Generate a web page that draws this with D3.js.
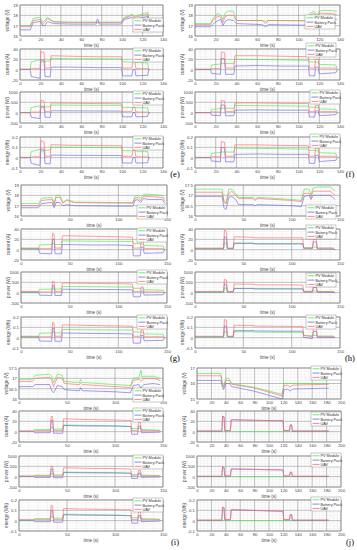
<!DOCTYPE html>
<html>
<head>
<meta charset="utf-8">
<script src="https://cdn.jsdelivr.net/npm/d3@7"></script>
<style>
body { margin: 0; background: #fff; }
</style>
</head>
<body>
<div id="chart"></div>
<script>
var seriesNames = ["PV Module", "Battery Pack", "UAV"];
var panelLabels = ["voltage (V)", "current (A)", "power (W)", "energy (Wh)"];

// ---------- (e) ----------
var eTime = [0, 10, 11, 19.5, 20.5, 23.5, 24.5, 29.5, 30.5, 50, 75, 99.5, 100.5, 109.5, 110.5, 112.5, 113.5, 125, 126, 127];
var eVoltTime = [0, 10, 13, 20, 22, 24, 27, 30, 33, 50, 74.5, 75.5, 76.5, 77.5, 99, 102, 110, 112, 125, 126.5];
var eVoltage = [
  [17.0, 17.0, 17.7, 17.8, 17.3, 17.5, 17.8, 17.6, 17.4, 17.35, 17.35, 17.35, 17.35, 17.35, 17.35, 17.8, 18.1, 17.9, 18.3, 17.6],
  [16.6, 16.6, 17.3, 17.4, 17.0, 17.0, 17.4, 17.3, 17.2, 17.15, 17.15, 17.6, 17.6, 17.15, 17.15, 17.6, 17.8, 17.6, 17.9, 17.4],
  [16.9, 16.9, 17.5, 17.6, 17.1, 17.3, 17.7, 17.5, 17.35, 17.3, 17.3, 17.3, 17.3, 17.3, 17.3, 17.7, 18.0, 17.8, 18.1, 17.5]
];
var eCurrent = [
  [0.5, 0.5, 15, 19, 15, 15, 16, 17, 22, 21, 21, 20.5, 15, 14.5, 15, 15, 14, 13, 1, 0],
  [0.5, 0.5, -13, -17, 19, 18, -13, -14, 5, 5, 4, 4, -12, -12, 0, 1, -12, -11, 0, 0],
  [1, 1, 2, 2, 35, 33, 3, 3, 27, 26, 25, 25, 3, 3, 15, 16, 2, 2, 1, 0]
];
var ePower = [
  [0, 0, 250, 330, 260, 260, 280, 290, 370, 360, 355, 350, 260, 250, 255, 255, 240, 230, 10, 0],
  [0, 0, -220, -290, 320, 300, -220, -230, 90, 85, 80, 75, -200, -200, 0, 10, -200, -190, 0, 0],
  [10, 10, 30, 30, 600, 560, 50, 50, 470, 455, 440, 430, 50, 50, 260, 270, 30, 30, 10, 0]
];
var eEnergy = [
  [0, 0, 0.06, 0.08, 0.065, 0.065, 0.07, 0.075, 0.1, 0.1, 0.098, 0.096, 0.068, 0.066, 0.067, 0.067, 0.062, 0.06, 0.002, 0],
  [0, 0, -0.055, -0.075, 0.085, 0.08, -0.057, -0.06, 0.025, 0.023, 0.022, 0.02, -0.052, -0.052, 0, 0.003, -0.052, -0.05, 0, 0],
  [0.003, 0.003, 0.008, 0.008, 0.165, 0.155, 0.013, 0.013, 0.125, 0.12, 0.117, 0.115, 0.013, 0.013, 0.07, 0.075, 0.008, 0.008, 0.003, 0]
];

// ---------- (f) ----------
var fTime = [0, 15, 16, 24.5, 25.5, 28.5, 29.5, 37.5, 38.5, 60, 85, 109.5, 110.5, 115.5, 116.5, 119, 120, 121, 136, 137.5];
var fVoltTime = [0, 15, 18, 22, 25, 27, 29, 32, 37, 40, 65, 68, 71, 109, 111, 115, 118, 120, 125, 137];
var fVoltage = [
  [17.2, 17.2, 17.8, 18.2, 18.0, 17.6, 18.2, 18.4, 18.4, 17.5, 17.5, 17.4, 17.5, 17.5, 18.2, 18.4, 18.0, 18.4, 18.5, 18.4],
  [16.9, 16.9, 17.2, 17.5, 17.6, 17.0, 17.4, 17.6, 17.5, 17.2, 17.1, 16.9, 17.1, 17.05, 17.7, 17.8, 17.5, 17.9, 17.8, 17.6],
  [17.1, 17.1, 17.6, 17.9, 17.8, 17.3, 17.9, 18.0, 18.0, 17.5, 17.5, 17.2, 17.5, 17.45, 18.0, 18.2, 17.8, 18.2, 18.2, 18.1]
];
var fCurrent = [
  [0, 0, 9, 11, 12, 12, 12, 12, 20, 19.5, 19, 18, 15, 15, 15, 13, 11, 10, 9, 0],
  [0.5, 0.5, -7, -9, 22, 21, -9, -9, 7, 8, 7, 7, -12, -12, 5, 5, -8, -8, -6, 0],
  [1, 1, 2, 2, 34, 33, 3, 3, 27, 27, 26, 25, 3, 3, 20, 20, 3, 3, 3, 0]
];
var fPower = [
  [0, 0, 160, 190, 210, 210, 210, 210, 350, 340, 330, 315, 270, 270, 270, 230, 195, 180, 160, 0],
  [0, 0, -120, -150, 380, 360, -150, -150, 120, 135, 120, 120, -210, -210, 90, 90, -140, -140, -100, 0],
  [10, 10, 35, 35, 590, 570, 50, 50, 470, 470, 450, 440, 50, 50, 350, 350, 50, 50, 50, 0]
];
var fEnergy = [
  [0, 0, 0.042, 0.05, 0.055, 0.055, 0.055, 0.055, 0.092, 0.09, 0.087, 0.083, 0.07, 0.07, 0.07, 0.06, 0.051, 0.047, 0.042, 0],
  [0, 0, -0.032, -0.04, 0.1, 0.095, -0.04, -0.04, 0.032, 0.036, 0.032, 0.032, -0.055, -0.055, 0.024, 0.024, -0.037, -0.037, -0.026, 0],
  [0.003, 0.003, 0.009, 0.009, 0.155, 0.15, 0.013, 0.013, 0.124, 0.124, 0.118, 0.116, 0.013, 0.013, 0.092, 0.092, 0.013, 0.013, 0.013, 0]
];

// ---------- (g) ----------
var gTime = [0, 18, 19, 31.5, 32.5, 34, 35, 41.5, 42.5, 70, 100, 114.5, 115.5, 122.5, 123.5, 125.5, 126.5, 146, 147.5, 148];
var gVoltTime = [0, 18, 21, 30, 32, 34, 36, 40, 43, 47, 55, 100, 115, 117, 120, 123, 126, 130, 145, 148];
var gVoltage = [
  [17.2, 17.2, 17.7, 17.8, 17.8, 17.2, 18.0, 18.0, 17.3, 17.6, 17.35, 17.3, 17.3, 17.9, 18.0, 17.7, 18.1, 18.1, 18.0, 17.6],
  [16.8, 16.8, 17.2, 17.3, 17.3, 16.8, 17.3, 17.3, 17.0, 17.1, 17.0, 16.95, 16.95, 17.5, 17.6, 17.3, 17.7, 17.6, 17.6, 17.2],
  [17.0, 17.0, 17.5, 17.6, 17.6, 17.0, 17.8, 17.8, 17.25, 17.5, 17.3, 17.25, 17.25, 17.7, 17.8, 17.5, 17.9, 17.9, 17.8, 17.4]
];
var gCurrent = [
  [0, 0, 9, 10, 12, 12, 10, 10, 17, 16.5, 16, 16, 12, 12, 12, 10, 8, 7, 0, 0],
  [2, 2, -7, -8, 20, 20, -8, -8, 10, 9, 9, 8, -12, -12, 5, 5, -7, -6, 0, 0],
  [3, 3, 2, 2, 32, 30, 3, 3, 27, 26, 25, 24, 3, 3, 16, 16, 2, 2, 0, 0]
];
var gPower = [
  [0, 0, 160, 175, 210, 210, 175, 175, 300, 290, 280, 280, 210, 210, 210, 175, 140, 125, 0, 0],
  [30, 30, -120, -135, 340, 340, -135, -135, 170, 155, 150, 135, -200, -200, 85, 85, -115, -100, 0, 0],
  [50, 50, 35, 35, 560, 530, 50, 50, 470, 450, 435, 420, 50, 50, 280, 280, 35, 35, 0, 0]
];
var gEnergy = [
  [0, 0, 0.042, 0.046, 0.055, 0.055, 0.046, 0.046, 0.079, 0.076, 0.074, 0.074, 0.055, 0.055, 0.055, 0.046, 0.037, 0.033, 0, 0],
  [0.008, 0.008, -0.032, -0.035, 0.09, 0.09, -0.035, -0.035, 0.045, 0.041, 0.039, 0.036, -0.053, -0.053, 0.022, 0.022, -0.03, -0.026, 0, 0],
  [0.013, 0.013, 0.009, 0.009, 0.147, 0.14, 0.013, 0.013, 0.124, 0.118, 0.114, 0.11, 0.013, 0.013, 0.074, 0.074, 0.009, 0.009, 0, 0]
];

// ---------- (h) ----------
var hTime = [0, 29.5, 30.5, 32.5, 33.5, 39.5, 40.5, 60, 62, 65, 90, 111.5, 112.5, 121.5, 122.5, 125.5, 126.5, 143, 145];
var hVoltTime = [0, 28, 30, 32, 35, 38, 42, 45, 60, 62, 65, 100, 110, 113, 118, 120, 122, 127, 140, 145];
var hVoltage = [
  [17.3, 17.3, 16.7, 16.6, 17.3, 17.3, 17.1, 16.9, 16.9, 16.8, 16.9, 16.8, 16.75, 17.3, 17.3, 17.0, 17.35, 17.4, 17.4, 17.2],
  [16.95, 16.95, 16.4, 16.3, 16.9, 16.95, 16.8, 16.55, 16.55, 16.5, 16.55, 16.5, 16.45, 16.95, 17.0, 16.8, 17.0, 17.0, 17.0, 16.8],
  [17.15, 17.15, 16.7, 16.6, 17.1, 17.2, 17.0, 16.85, 16.85, 16.75, 16.85, 16.75, 16.7, 17.1, 17.1, 16.9, 17.2, 17.2, 17.2, 17.0]
];
var hCurrent = [
  [1, 1, 13, 13, 2, 2, 13, 13, 12, 12, 12, 12, 4, 4, 5, 5, 3, 3, 0],
  [2, 2, 25, 24, 2, 2, 12, 12, 11, 11, 11, 11, 2, 2, 15, 15, 1, 1, 0],
  [3, 3, 38, 36, 3, 3, 25, 24, 23, 23, 23, 23, 3, 3, 20, 20, 3, 3, 0]
];
var hPower = [
  [15, 15, 220, 220, 35, 35, 210, 210, 195, 195, 190, 190, 70, 70, 80, 80, 50, 50, 0],
  [30, 30, 420, 400, 30, 30, 200, 200, 180, 180, 180, 180, 30, 30, 250, 250, 15, 15, 0],
  [50, 50, 640, 610, 50, 50, 420, 410, 380, 380, 375, 370, 50, 50, 330, 330, 50, 50, 0]
];
var hEnergy = [
  [0.004, 0.004, 0.06, 0.06, 0.01, 0.01, 0.058, 0.058, 0.054, 0.054, 0.053, 0.053, 0.019, 0.019, 0.022, 0.022, 0.014, 0.014, 0],
  [0.008, 0.008, 0.115, 0.11, 0.008, 0.008, 0.068, 0.068, 0.065, 0.065, 0.063, 0.062, 0.003, -0.01, 0.06, 0.06, 0.0, 0.0, 0],
  [0.013, 0.013, 0.175, 0.168, 0.013, 0.013, 0.12, 0.118, 0.112, 0.112, 0.11, 0.108, 0.022, 0.01, 0.09, 0.09, 0.013, 0.013, 0]
];

// ---------- (i) ----------
var iTime = [0, 15, 16, 32.5, 33.5, 35, 36, 45.5, 46.5, 70, 100, 116.5, 117.5, 123.5, 124.5, 126.5, 127.5, 146, 147.5];
var iVoltTime = [0, 14, 17, 32, 34, 36, 40, 45, 47, 63, 64, 66, 100, 116, 119, 125, 127, 128, 130, 140, 147];
var iVoltage = [
  [16.95, 16.95, 17.15, 17.2, 17.1, 16.8, 17.2, 17.15, 16.85, 16.8, 16.95, 16.8, 16.7, 16.65, 17.0, 17.05, 17.4, 17.05, 17.1, 17.1, 17.0],
  [16.6, 16.6, 16.7, 16.7, 16.4, 16.3, 16.65, 16.6, 16.45, 16.4, 16.55, 16.4, 16.35, 16.3, 16.65, 16.7, 16.5, 16.6, 16.7, 16.75, 16.7],
  [16.85, 16.85, 17.0, 17.05, 16.9, 16.6, 17.05, 17.0, 16.75, 16.7, 16.8, 16.7, 16.6, 16.55, 16.9, 16.95, 16.85, 16.9, 17.0, 17.0, 16.9]
];
var iCurrent = [
  [0, 0, 4, 4, 8, 8, 5, 5, 13, 12, 11, 10, 6, 6, 7, 7, 4, 3, 0],
  [1, 1, -2, -2, 22, 22, -3, -3, 12, 11, 11, 10, -5, -5, 11, 11, -2, -1, 0],
  [1, 1, 2, 2, 30, 29, 2, 2, 25, 23.5, 22.5, 21.5, 2, 2, 18, 18, 2, 2, 0]
];
var iPower = [
  [0, 0, 70, 70, 140, 140, 85, 85, 220, 205, 190, 175, 100, 100, 120, 120, 70, 50, 0],
  [20, 20, -35, -35, 370, 370, -50, -50, 200, 185, 180, 165, -85, -85, 180, 180, -35, -15, 0],
  [30, 30, 35, 35, 520, 500, 35, 35, 430, 405, 390, 370, 35, 35, 300, 300, 35, 35, 0]
];
var iEnergy = [
  [0, 0, 0.02, 0.02, 0.04, 0.04, 0.025, 0.025, 0.063, 0.059, 0.055, 0.05, 0.028, 0.028, 0.034, 0.034, 0.02, 0.015, 0],
  [0.005, 0.005, -0.01, -0.01, 0.1, 0.1, -0.015, -0.015, 0.057, 0.053, 0.051, 0.047, -0.024, -0.024, 0.05, 0.05, -0.01, -0.004, 0],
  [0.009, 0.009, 0.01, 0.01, 0.15, 0.144, 0.01, 0.01, 0.117, 0.112, 0.108, 0.104, 0.01, 0.01, 0.085, 0.085, 0.01, 0.01, 0]
];

// ---------- (j) ----------
var jTime = [0, 34.5, 35.5, 37.5, 38.5, 46.5, 47.5, 80, 119.5, 120.5, 128.5, 129.5, 131.5, 132.5, 183];
var jVoltTime = [0, 33, 35, 37, 40, 45, 48, 80, 118, 121, 126, 129, 131, 135, 183];
var jVoltage = [
  [16.65, 16.65, 16.1, 15.8, 16.35, 16.3, 16.0, 15.75, 15.3, 16.0, 16.0, 16.0, 16.0, 16.0, 16.0],
  [16.2, 16.2, 15.8, 15.6, 16.0, 16.0, 15.8, 15.5, 15.0, 15.6, 15.65, 15.5, 15.6, 15.65, 15.7],
  [16.5, 16.5, 16.0, 15.75, 16.2, 16.2, 15.95, 15.7, 15.2, 15.85, 15.9, 15.75, 15.85, 15.9, 15.95]
];
var jCurrent = [
  [0, 0, 0, 0, 0, 0, 0, 0, 0, 0, 0, 0, 0, 0, 0],
  [1, 1, 30, 29, 2, 2, 23, 22, 21, 2, 2, 13, 13, 1, 1],
  [1.5, 1.5, 30, 29, 2, 2, 23, 22, 21, 2, 2, 13, 13, 1.5, 1.5]
];
var jPower = [
  [0, 0, 0, 0, 0, 0, 0, 0, 0, 0, 0, 0, 0, 0, 0],
  [15, 15, 470, 450, 30, 30, 370, 350, 320, 30, 30, 210, 210, 15, 15],
  [20, 20, 480, 460, 35, 35, 380, 355, 325, 35, 35, 215, 215, 20, 20]
];
var jEnergy = [
  [0, 0, 0, 0, 0, 0, 0, 0, 0, 0, 0, 0, 0, 0, 0],
  [0.004, 0.004, 0.13, 0.125, 0.008, 0.008, 0.105, 0.098, 0.09, 0.008, 0.008, 0.058, 0.058, 0.004, 0.004],
  [0.006, 0.006, 0.132, 0.127, 0.01, 0.01, 0.107, 0.1, 0.092, 0.01, 0.01, 0.06, 0.06, 0.006, 0.006]
];

// axis ticks
var xTicks140 = [0, 20, 40, 60, 80, 100, 120, 140];
var xTicks150 = [0, 50, 100, 150];
var xTicks200 = [0, 20, 40, 60, 80, 100, 120, 140, 160, 180, 200];
var voltTicks19 = [16, 17, 18, 19];
var voltTicks175 = [16, 16.5, 17, 17.5];
var voltTicks17 = [15, 16, 17];
var currentTicks = [-20, 0, 20, 40];
var powerTicks = [-500, 0, 500, 1000];
var energyTicks = [-0.1, 0, 0.1, 0.2];

// ---------- layout ----------
var W = 357, H = 550;
var colors = ["#4ae84a", "#6a6ae0", "#ff6a6a"];

var figures = [
  {label: "(e)", left: 20, width: 143, tops: [5, 49, 92, 137], xTicks: xTicks140, xMinor: 5, time: eTime, voltTime: eVoltTime,
   data: [eVoltage, eCurrent, ePower, eEnergy], voltTicks: voltTicks19, voltMinor: 0.25, labelPos: [175, 177],
   legend: [13, -1, -1, -1], legendRight: [0, 0, 0, 0]},
  {label: "(f)", left: 195, width: 145, tops: [5, 49, 92, 137], xTicks: xTicks140, xMinor: 5, time: fTime, voltTime: fVoltTime,
   data: [fVoltage, fCurrent, fPower, fEnergy], voltTicks: voltTicks19, voltMinor: 0.25, labelPos: [350, 177],
   legend: [10, -6, -2, -3], legendRight: [5, 4, 0, 0]},
  {label: "(g)", left: 21, width: 146, tops: [185, 229, 272, 317], xTicks: xTicks150, xMinor: 10, time: gTime, voltTime: gVoltTime,
   data: [gVoltage, gCurrent, gPower, gEnergy], voltTicks: voltTicks19, voltMinor: 0.25, labelPos: [175, 361],
   legend: [20, -1, -2, -2], legendRight: [0, 0, 0, 0]},
  {label: "(h)", left: 195, width: 145, tops: [185, 229, 272, 317], xTicks: xTicks150, xMinor: 10, time: hTime, voltTime: hVoltTime,
   data: [hVoltage, hCurrent, hPower, hEnergy], voltTicks: voltTicks175, voltMinor: 0.1, labelPos: [350, 361],
   legend: [20, -4, 1, -2], legendRight: [4, 4, 4, 4]},
  {label: "(i)", left: 19, width: 144, tops: [368, 411, 456, 500], xTicks: xTicks150, xMinor: 10, time: iTime, voltTime: iVoltTime,
   data: [iVoltage, iCurrent, iPower, iEnergy], voltTicks: voltTicks175, voltMinor: 0.1, labelPos: [175, 545],
   legend: [20, -3, -1, -2], legendRight: [0, 0, 0, 0]},
  {label: "(j)", left: 197, width: 144, tops: [368, 411, 456, 500], xTicks: xTicks200, xMinor: 5, time: jTime, voltTime: jVoltTime,
   data: [jVoltage, jCurrent, jPower, jEnergy], voltTicks: voltTicks17, voltMinor: 0.2, labelPos: [350, 545],
   legend: [-2, 1, -3, -3], legendRight: [0, 0, 0, 0]}
];
var panelHeight = 31;
var fontFamily = "Liberation Sans, Arial, sans-serif";
var tickFormat = function (d) { return String(d); };

var svg = d3.select("#chart").append("svg")
  .attr("width", W).attr("height", H)
  .attr("viewBox", "0 0 " + W + " " + H);

function drawPanel(fig, p) {
  var top = fig.tops[p];
  var g = svg.append("g").attr("transform", "translate(" + fig.left + "," + top + ")");
  var xMax = fig.xTicks[fig.xTicks.length - 1];
  var x = d3.scaleLinear().domain([0, xMax]).range([0, fig.width]);
  var yt = p == 0 ? fig.voltTicks : [currentTicks, powerTicks, energyTicks][p - 1];
  var y = d3.scaleLinear().domain([yt[0], yt[yt.length - 1]]).range([panelHeight, 0]);
  var yMinorStep = p == 0 ? fig.voltMinor : [5, 125, 0.025][p - 1];

  // minor grid
  var xm = d3.range(0, xMax + 0.001, fig.xMinor);
  var ym = d3.range(yt[0], yt[yt.length - 1] + yMinorStep / 2, yMinorStep);
  g.append("g").selectAll("line").data(xm).enter().append("line")
    .attr("x1", x).attr("x2", x).attr("y1", 0).attr("y2", panelHeight)
    .attr("stroke", "#e6e6e6").attr("stroke-width", 0.4);
  g.append("g").selectAll("line").data(ym).enter().append("line")
    .attr("y1", y).attr("y2", y).attr("x1", 0).attr("x2", fig.width)
    .attr("stroke", "#e6e6e6").attr("stroke-width", 0.4);

  // major grid
  g.append("g").selectAll("line").data(fig.xTicks).enter().append("line")
    .attr("x1", x).attr("x2", x).attr("y1", 0).attr("y2", panelHeight)
    .attr("stroke", "#8a8a8a").attr("stroke-width", 0.5);
  g.append("g").selectAll("line").data(yt).enter().append("line")
    .attr("y1", y).attr("y2", y).attr("x1", 0).attr("x2", fig.width)
    .attr("stroke", "#8a8a8a").attr("stroke-width", 0.5);

  // series
  var times = p == 0 ? fig.voltTime : fig.time;
  var line = d3.line()
    .x(function (d) { return x(d[0]); })
    .y(function (d) { return y(d[1]); });
  fig.data[p].forEach(function (vals, k) {
    var pts = times.map(function (t, i) { return [t, vals[i]]; });
    g.append("path").datum(pts)
      .attr("d", line)
      .attr("fill", "none")
      .attr("stroke", colors[k])
      .attr("stroke-width", 0.65);
  });

  // axes
  var xAxis = d3.axisBottom(x).tickValues(fig.xTicks).tickFormat(tickFormat).tickSize(0).tickPadding(2);
  var yAxis = d3.axisLeft(y).tickValues(yt).tickFormat(tickFormat).tickSize(0).tickPadding(2);
  var gx = g.append("g").attr("transform", "translate(0," + panelHeight + ")").call(xAxis);
  var gy = g.append("g").call(yAxis);
  [gx, gy].forEach(function (a) {
    a.select(".domain").remove();
    a.selectAll("text").attr("font-size", 4.3).attr("font-family", fontFamily).attr("fill", "#444");
  });
  g.append("rect").attr("width", fig.width).attr("height", panelHeight)
    .attr("fill", "none").attr("stroke", "#666").attr("stroke-width", 0.5);

  g.append("text")
    .attr("x", fig.width / 2).attr("y", panelHeight + 10.5)
    .attr("text-anchor", "middle").attr("font-size", 4.5)
    .attr("font-family", fontFamily).attr("fill", "#444")
    .text("time (s)");
  g.append("text")
    .attr("transform", "translate(-11," + (panelHeight / 2) + ") rotate(-90)")
    .attr("text-anchor", "middle").attr("font-size", 4.5)
    .attr("font-family", fontFamily).attr("fill", "#444")
    .text(panelLabels[p]);

  // legend
  var lw = 30, lh = 14;
  var lg = g.append("g").attr("transform", "translate(" + (fig.width - lw - fig.legendRight[p]) + "," + fig.legend[p] + ")");
  lg.append("rect").attr("width", lw).attr("height", lh)
    .attr("fill", "#fff").attr("stroke", "#777").attr("stroke-width", 0.4);
  seriesNames.forEach(function (name, k) {
    var yy = 2.8 + k * 4.3;
    lg.append("line").attr("x1", 1.5).attr("x2", 8.5).attr("y1", yy).attr("y2", yy)
      .attr("stroke", colors[k]).attr("stroke-width", 0.8);
    lg.append("text").attr("x", 9.5).attr("y", yy + 1.4)
      .attr("font-size", 3.8).attr("font-family", fontFamily).attr("fill", "#333")
      .text(name);
  });
}

figures.forEach(function (fig) {
  for (var p = 0; p < 4; p++) drawPanel(fig, p);
  svg.append("text")
    .attr("x", fig.labelPos[0]).attr("y", fig.labelPos[1])
    .attr("text-anchor", "middle").attr("font-size", 8.5)
    .attr("font-family", "Liberation Serif, Times New Roman, serif")
    .attr("fill", "#000")
    .text(fig.label);
});
</script>
</body>
</html>
